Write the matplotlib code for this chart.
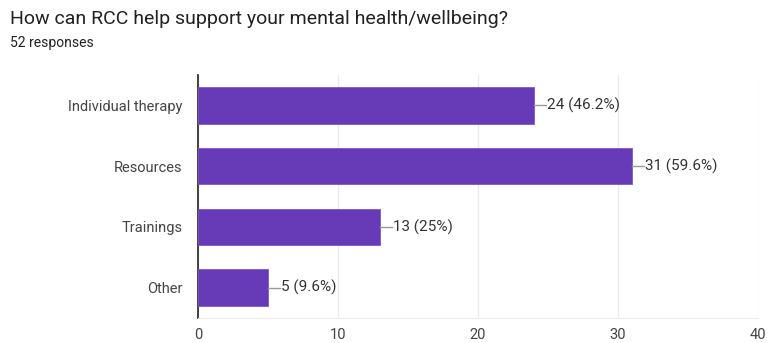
import matplotlib
matplotlib.use("Agg")
import matplotlib.pyplot as plt

plt.rcParams['font.family'] = ['Roboto', 'DejaVu Sans']

categories = ['Individual therapy', 'Resources', 'Trainings', 'Other']
counts = [24, 31, 13, 5]
percents = ['46.2%', '59.6%', '25%', '9.6%']
total_responses = 52

fig = plt.figure(figsize=(7.69, 3.43), dpi=100)
ax = fig.add_axes([198/769, 1-318/343, 560/769, 243/343])

ypos = list(range(len(categories)))
ax.barh(ypos, counts, height=0.6, color='#673ab7', edgecolor='#7e57c2', linewidth=0.6, zorder=3)

# value labels with short leader lines
for y, c, p in zip(ypos, counts, percents):
    ax.plot([c, c + 0.85], [y, y], color='#999999', lw=1, zorder=3)
    ax.text(c + 0.9, y, f'{c} ({p})', va='center', ha='left', fontsize=11, color='#333333')

ax.set_xlim(0, 40)
ax.set_ylim(len(categories) - 0.5, -0.5)
ax.set_xticks([0, 10, 20, 30, 40])
ax.set_yticks(ypos)
ax.set_yticklabels(categories)
ax.tick_params(axis='both', length=0, labelsize=10.5, colors='#444444')
ax.tick_params(axis='x', pad=7.5)
ax.tick_params(axis='y', pad=11)
ax.grid(axis='x', color='#ebebeb', lw=1, zorder=0)

for s in ['top', 'right']:
    ax.spines[s].set_visible(False)
ax.spines['bottom'].set_color('#ebebeb')
ax.spines['left'].set_color('#333333')
ax.spines['left'].set_linewidth(1.3)

fig.text(10/769, 1-19/343, 'How can RCC help support your mental health/wellbeing?',
         fontsize=14, color='#202124', va='center', ha='left')
fig.text(10/769, 1-43/343, f'{total_responses} responses',
         fontsize=10, color='#202124', va='center', ha='left')

fig.savefig('out.png', dpi=100)
